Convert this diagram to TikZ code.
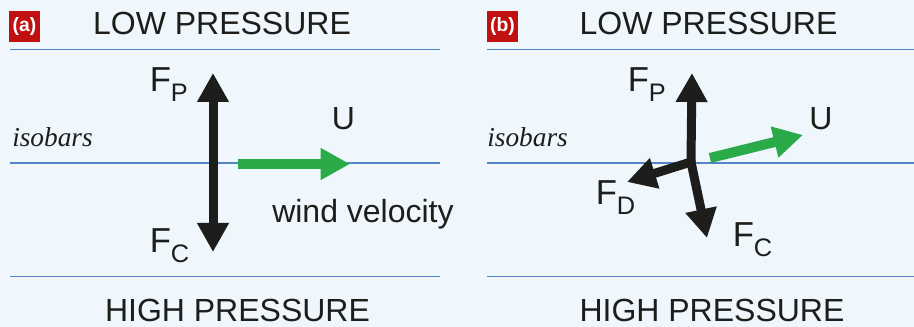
\documentclass[tikz,border=0pt]{standalone}
\usepackage{fontspec}
\setmainfont{Liberation Sans}
\newfontfamily\isofont{Liberation Serif}
\usetikzlibrary{arrows.meta, positioning}
\definecolor{windBg}{HTML}{EFF7FD}
\definecolor{windLine}{HTML}{5285C4}
\definecolor{windRed}{HTML}{C0100F}
\definecolor{windGreen}{HTML}{2BAA4A}
\definecolor{windDark}{HTML}{1D1D1B}
\newcommand{\forcelbl}[1]{F\raisebox{-7.5pt}{\fontsize{19}{19}\selectfont #1}}
\tikzset{
  isobar/.style={draw=windLine, line width=1.1pt},
  presslbl/.style={inner sep=0pt, anchor=base, font=\fontsize{24}{24}\selectfont, text=windDark},
  isolbl/.style={inner sep=0pt, anchor=base west, font=\isofont\itshape\fontsize{20.5}{20.5}\selectfont, text=windDark},
  forcelbl/.style={inner sep=0pt, anchor=base west, font=\fontsize{26}{26}\selectfont, text=windDark},
  panetag/.style={fill=windRed, text=white, inner sep=0pt, minimum size=23.25pt,
    font=\bfseries\fontsize{14.5}{14.5}\selectfont},
  force/.style={draw=windDark, line width=6.75pt, line cap=round,
    -{Triangle[width=22.5pt, length=21.75pt]}},
  wind/.style={draw=windGreen, line width=7.5pt,
    -{Triangle[width=22.5pt, length=22pt]}}
}
\begin{document}
\begin{tikzpicture}[x=0.75pt, y=-0.75pt]
  % background
  \fill[windBg] (0,0) rectangle (914,327);
  \useasboundingbox (0,0) rectangle (914,327);

  % isobars
  \foreach \y in {49.5, 163, 276.5}
  {
    \draw[isobar] (10,\y) -- (440,\y);
    \draw[isobar] (487,\y) -- (914,\y);
  }

  % tags and pressure labels
  \node[panetag] (tagA) at (24.5,26.5) {(a)};
  \node[panetag] (tagB) at (502.5,26.5) {(b)};
  \foreach \n/\x in {A/222, B/708.5}
    \node[presslbl] (low\n) at (\x,35) {LOW PRESSURE};
  \foreach \n/\x in {A/237.5, B/712}
    \node[presslbl] (high\n) at (\x,322) {HIGH PRESSURE};
  \node[isolbl] (isoA) at (12,147) {isobars};
  \node[isolbl] (isoB) at (487,147) {isobars};

  % Panel (a): balance of pressure and Coriolis
  \coordinate (fpA) at (213,73);
  \coordinate (fcA) at (213,252);
  \draw[force, {Triangle[width=22.5pt, length=21.75pt]}-{Triangle[width=22.5pt, length=21.75pt]}] (fcA) -- (fpA);
  \coordinate (uTailA) at (238,164);
  \coordinate (uTipA) at (350,164);
  \draw[wind] (uTailA) -- (uTipA);
  \node[forcelbl] (lblFpA) at (149.5,92) {\forcelbl{P}};
  \node[forcelbl] (lblFcA) at (149.5,253) {\forcelbl{C}};
  \node[presslbl] (lblUA) at (343.5,130) {U};
  \node[presslbl, anchor=base west] (lblWind) at (272,223) {wind velocity};

  % Panel (b): with friction
  \coordinate (oB) at (691,162);
  \coordinate (fpB) at (692,73);
  \coordinate (fcB) at (707,238);
  \coordinate (fdB) at (627,182);
  \draw[force] (oB) -- (fpB);
  \draw[force] (oB) -- (fcB);
  \draw[force] (oB) -- (fdB);
  \coordinate (uTailB) at (710,158);
  \coordinate (uTipB) at (803,135);
  \draw[wind] (uTailB) -- (uTipB);
  \node[forcelbl] (lblFpB) at (627.5,92) {\forcelbl{P}};
  \node[forcelbl] (lblFdB) at (595.5,205) {\forcelbl{D}};
  \node[forcelbl] (lblFcB) at (732.5,247) {\forcelbl{C}};
  \node[presslbl] (lblUB) at (821,130) {U};
\end{tikzpicture}
\end{document}
